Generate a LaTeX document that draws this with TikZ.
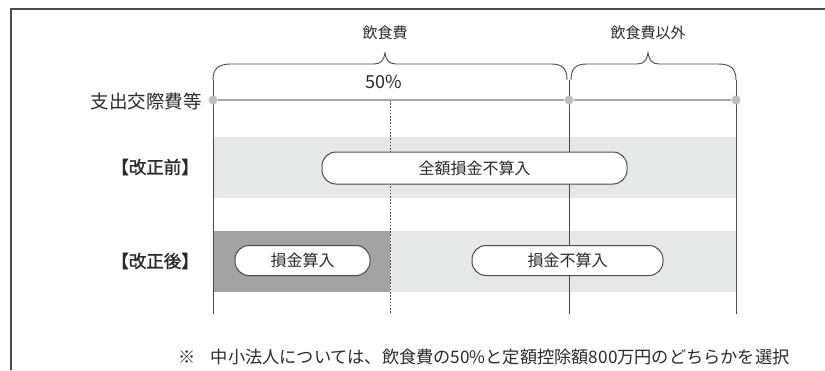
\documentclass[tikz,border=0pt]{standalone}
\usepackage{fontspec}
\setmainfont{Noto Sans CJK JP}
\newfontfamily\hdrfont[FakeBold=1.3]{Noto Sans CJK JP}
\definecolor{bandlight}{HTML}{E4E8E6}
\definecolor{banddark}{HTML}{A3A3A3}
\definecolor{linec}{HTML}{4A4A4A}
\definecolor{dotc}{HTML}{BEBEBE}
\definecolor{axisc}{HTML}{A6A6A6}
\definecolor{txt}{HTML}{2A2A2A}
\tikzset{
  lbl/.style={inner sep=0pt, text=txt, font=\fontsize{15}{18}\selectfont},
  hdr/.style={inner sep=0pt, text=txt, font=\hdrfont\fontsize{17.5}{20}\selectfont},
  pill/.style={draw=linec, line width=1pt, fill=white, rounded corners=14pt, inner sep=0pt, text=txt, font=\fontsize{16}{19}\selectfont},
  dotnode/.style={circle, fill=dotc, minimum size=9pt, inner sep=0pt},
  vline/.style={draw=linec, line width=0.8pt},
  brace/.style={draw=linec, line width=0.9pt},
}
\begin{document}
\begin{tikzpicture}[x=1pt,y=-1pt]
\useasboundingbox (0,0) rectangle (825,370);
% frame
\coordinate (fTL) at (11,9);
\coordinate (fTR) at (825,9);
\coordinate (fBL) at (11,370);
\draw[linec, line width=1.2pt] (fBL) -- (fTL) -- (fTR);
% bands
\fill[bandlight] (213,137) rectangle (736,198);
\fill[bandlight] (390,231) rectangle (736,292);
\fill[banddark] (213,231) rectangle (390,292);
% vertical lines
\coordinate (t1) at (213,80); \coordinate (b1) at (213,314);
\coordinate (t2) at (569,80); \coordinate (b2) at (569,314);
\coordinate (t3) at (736,80); \coordinate (b3) at (736,314);
\coordinate (m0) at (390,100); \coordinate (m1) at (390,314);
\draw[vline] (t1) -- (b1);
\draw[vline] (t2) -- (b2);
\draw[vline] (t3) -- (b3);
\draw[draw=linec, line width=0.8pt, dash pattern=on 1.6pt off 1.6pt] (m0) -- (m1);
% axis
\node[dotnode] (d1) at (213,100) {};
\node[dotnode] (d2) at (569,100) {};
\node[dotnode] (d3) at (736,100) {};
\draw[axisc, line width=1.5pt] (d1) -- (d2) -- (d3);
% braces
\draw[brace] (t1) .. controls (213,68) and (219,64) .. (231,64) -- (374,64)
  .. controls (381,64) and (384,60) .. (385,53)
  .. controls (386,60) and (389,64) .. (396,64) -- (551,64)
  .. controls (562,64) and (567,68) .. (567,80);
\draw[brace] (571,80) .. controls (571,68) and (576,64) .. (587,64) -- (637,64)
  .. controls (644,64) and (647,60) .. (648,53)
  .. controls (649,60) and (652,64) .. (659,64) -- (718,64)
  .. controls (730,64) and (736,68) .. (t3);
% labels
\node[lbl] (l1) at (385,33) {飲食費};
\node[lbl] (l2) at (648,33) {飲食費以外};
\node[lbl, font=\fontsize{18}{20}\selectfont] (pc) at (384,82) {50\%};
\node[lbl, font=\fontsize{18.5}{21}\selectfont, anchor=east] (sx) at (202,101) {支出交際費等};
\node[hdr, anchor=east] (h1) at (199,167) {【改正前】};
\node[hdr, anchor=east] (h2) at (199,261) {【改正後】};
% pills
\node[pill, minimum width=305pt, minimum height=32pt] (p1) at (474.5,168) {全額損金不算入};
\node[pill, minimum width=135pt, minimum height=30pt] (p2) at (302.5,260.5) {損金算入};
\node[pill, minimum width=191pt, minimum height=30pt] (p3) at (567.5,260.5) {損金不算入};
% footnote
\node[lbl, font=\fontsize{17.2}{20}\selectfont, anchor=west] (fn) at (178,357) {※\hspace{0.9em}中小法人については、飲食費の50\%と定額控除額800万円のどちらかを選択};
\end{tikzpicture}
\end{document}
